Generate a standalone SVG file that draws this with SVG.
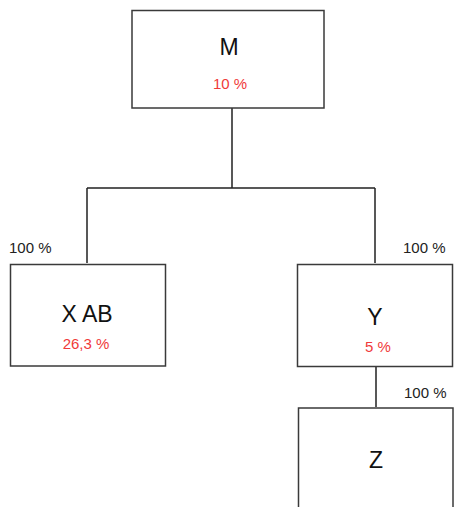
<svg xmlns="http://www.w3.org/2000/svg" width="454" height="507" viewBox="0 0 454 507">
<style>
.box{fill:#fff;stroke:#3a3a3a;stroke-width:1.5}
.name{font-family:"Liberation Sans",Arial,sans-serif;font-size:23px;fill:#111;text-anchor:middle}
.pct{font-family:"Liberation Sans",Arial,sans-serif;font-size:15px;fill:#f03a3a;text-anchor:middle}
.own{font-family:"Liberation Sans",Arial,sans-serif;font-size:15px;fill:#222}
.line{fill:none;stroke:#222;stroke-width:1.5}
</style>
<rect width="454" height="507" fill="#fff"/>
<g id="connectors">
<path class="line" d="M232,108 V188 M87,188 H375 M87,188 V263 M375,188 V263 M376,367 V407"/>
<text class="own" x="9" y="253">100 %</text>
<text class="own" x="403" y="253">100 %</text>
<text class="own" x="404" y="398">100 %</text>
</g>
<g id="node-M">
<rect class="box" x="132" y="10.5" width="192" height="97.5"/>
<text class="name" x="229" y="55">M</text>
<text class="pct" x="230" y="89">10 %</text>
</g>
<g id="node-XAB">
<rect class="box" x="10.5" y="264.5" width="155" height="101.5"/>
<text class="name" x="87" y="322">X AB</text>
<text class="pct" x="86" y="349">26,3 %</text>
</g>
<g id="node-Y">
<rect class="box" x="297.5" y="264.5" width="155" height="102"/>
<text class="name" x="375" y="325">Y</text>
<text class="pct" x="378" y="352">5 %</text>
</g>
<g id="node-Z">
<rect class="box" x="298.5" y="408" width="154.5" height="110"/>
<text class="name" x="376" y="468">Z</text>
</g>
</svg>
